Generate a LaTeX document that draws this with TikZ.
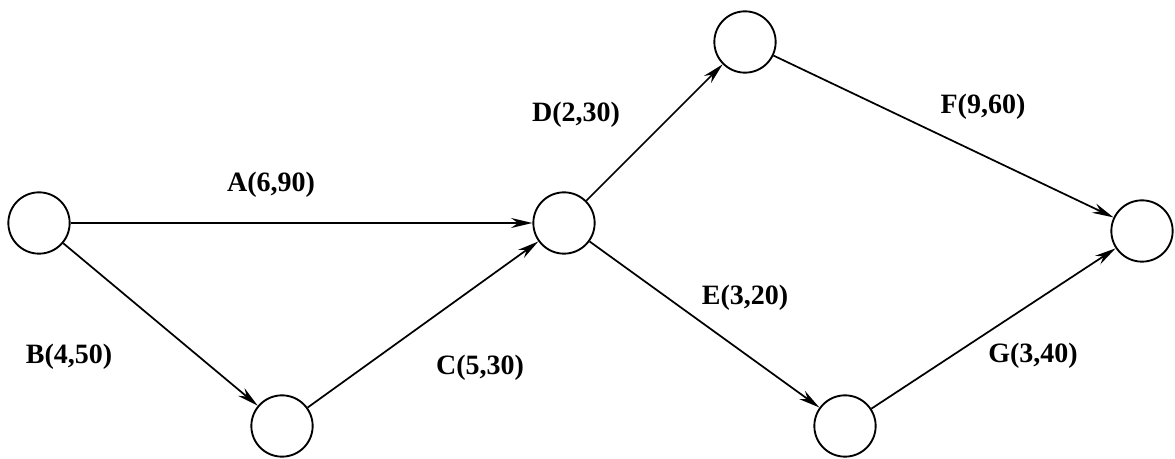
\documentclass[tikz,border=0pt]{standalone}
\usepackage{fontspec}
\setmainfont{Liberation Serif}
\usetikzlibrary{arrows.meta}
\begin{document}
\begin{tikzpicture}[x=0.75pt,y=-0.75pt,
  ev/.style={circle,draw,line width=1.4pt,minimum size=46pt,inner sep=0pt},
  act/.style={line width=1.3pt,-{Stealth[length=16pt,width=7.5pt]}},
  lbl/.style={font=\fontsize{21}{24}\selectfont\bfseries,inner sep=0pt}]
\useasboundingbox (0,0) rectangle (1175,459);
\node[ev] (n1) at (39,223) {};
\node[ev] (n2) at (282,426) {};
\node[ev] (n3) at (564,223) {};
\node[ev] (n4) at (745,42) {};
\node[ev] (n5) at (845,426) {};
\node[ev] (n6) at (1142,231) {};
\draw[act] (n1) -- (n3);
\draw[act] (n1) -- (n2);
\draw[act] (n2) -- (n3);
\draw[act] (n3) -- (n4);
\draw[act] (n3) -- (n5);
\draw[act] (n4) -- (n6);
\draw[act] (n5) -- (n6);
\node[lbl] (la) at (271,185) {A(6,90)};
\node[lbl] (lb) at (69,357) {B(4,50)};
\node[lbl] (lc) at (480,368) {C(5,30)};
\node[lbl] (ld) at (576,115) {D(2,30)};
\node[lbl] (le) at (745,298) {E(3,20)};
\node[lbl] (lf) at (983,107) {F(9,60)};
\node[lbl] (lg) at (1033,356) {G(3,40)};
\end{tikzpicture}
\end{document}
